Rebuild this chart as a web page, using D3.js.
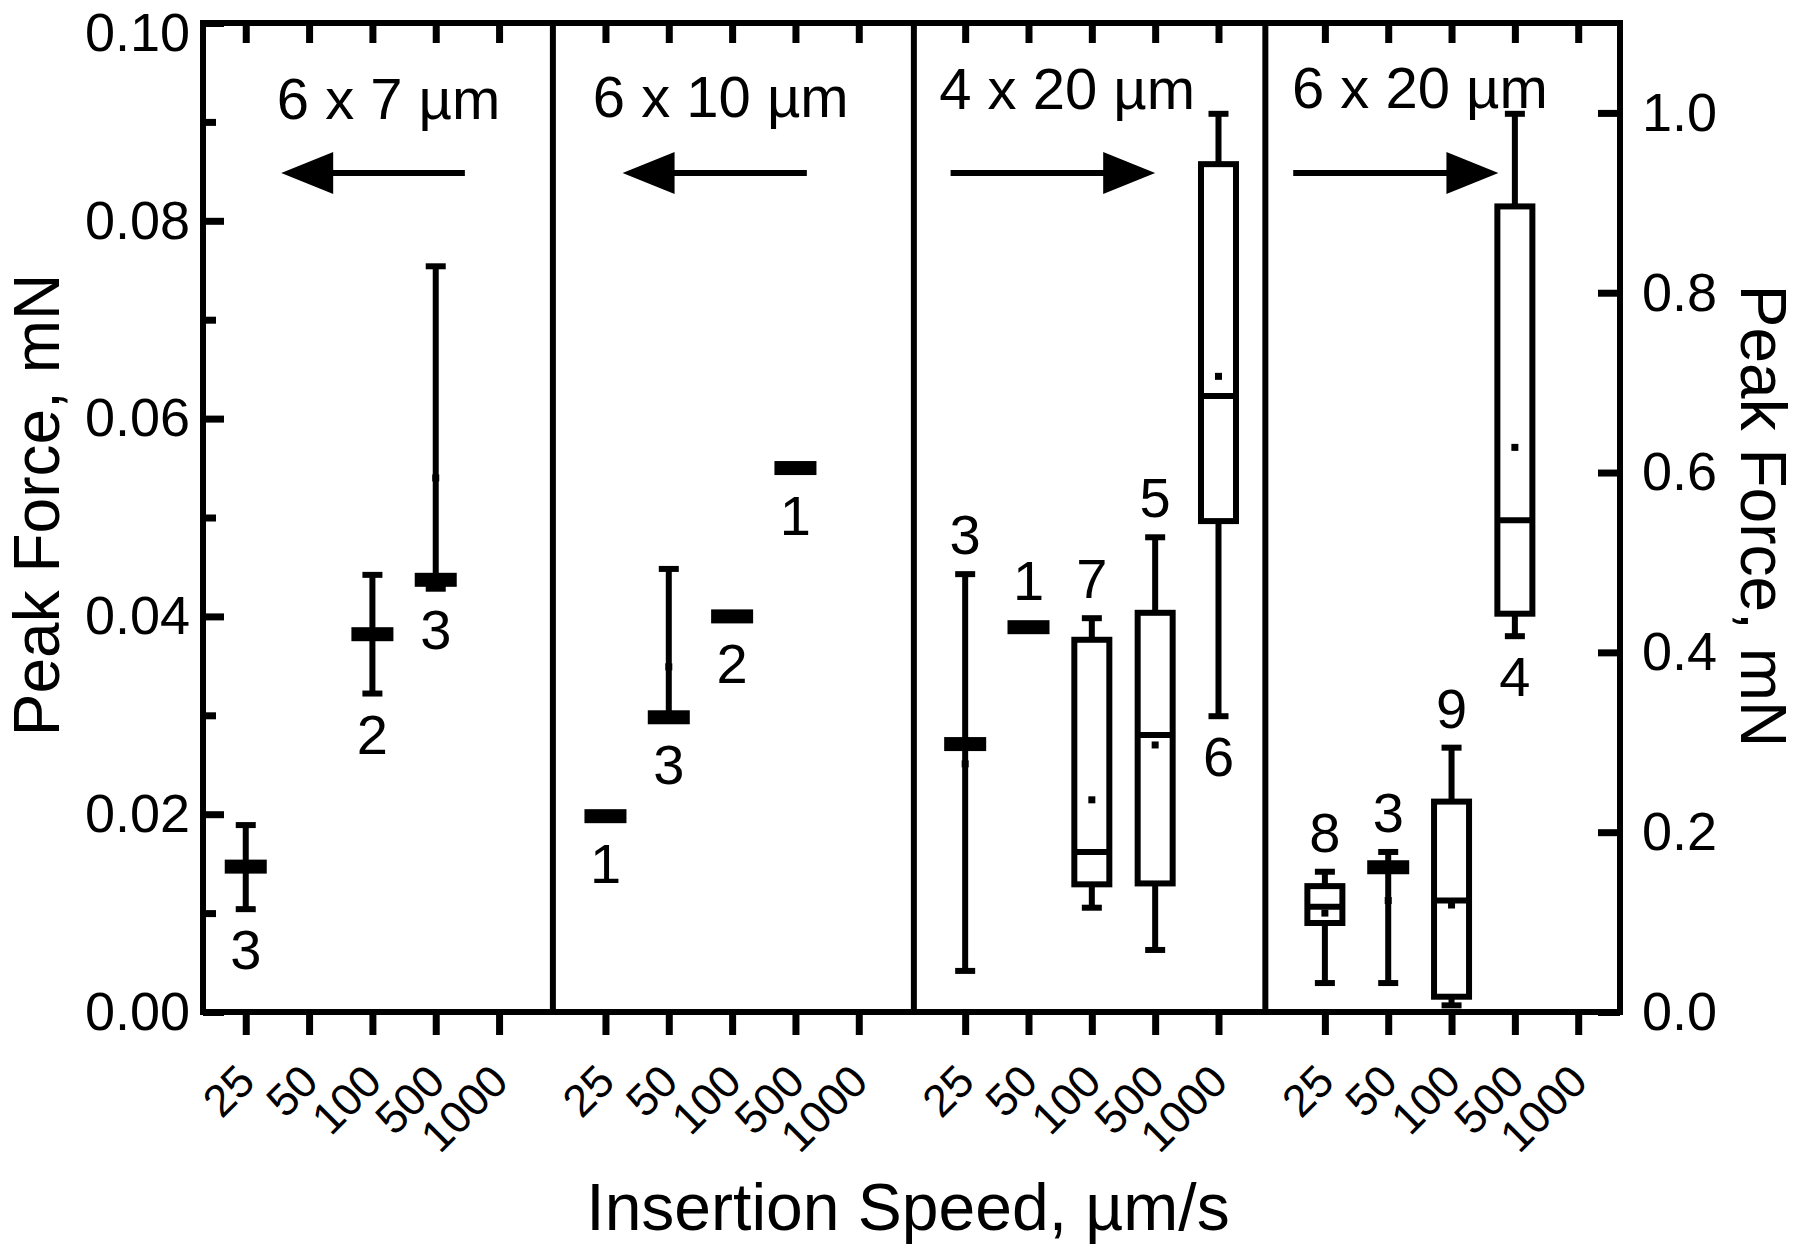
<!DOCTYPE html>
<html>
<head>
<meta charset="utf-8">
<script src="https://cdn.jsdelivr.net/npm/d3@7"></script>
<style>
  html, body { margin: 0; padding: 0; background: #fff; }
  svg { display: block; }
</style>
</head>
<body>
<script>
// ---------------- DATA ----------------
const speeds = ["25", "50", "100", "500", "1000"];
const panelNames = ["6 x 7 \u00b5m", "6 x 10 \u00b5m", "4 x 20 \u00b5m", "6 x 20 \u00b5m"];
const panelAxis = ["left", "left", "right", "right"];      // which y axis a panel is read against
const arrowDirection = ["left", "left", "right", "right"];

const leftTicks = [0, 0.02, 0.04, 0.06, 0.08, 0.10];
const leftMinorTicks = [0.01, 0.03, 0.05, 0.07, 0.09];
const rightTicks = [0, 0.2, 0.4, 0.6, 0.8, 1.0];

// Peak force, mN  (rows = panels, columns = speeds 25, 50, 100, 500, 1000)
const whiskerHigh = [
  [0.0189, null, 0.0442, 0.0754, null],
  [null, 0.0448, null, null, null],
  [0.487, null, 0.438, 0.528, 0.999],
  [0.156, 0.178, 0.294, 0.999, null]
];
const whiskerLow = [
  [0.0104, null, 0.0322, 0.0428, null],
  [null, 0.0298, null, null, null],
  [0.0457, null, 0.116, 0.069, 0.329],
  [0.0322, 0.0322, 0.0074, 0.418, null]
];
const boxHigh = [
  [null, null, null, null, null],
  [null, null, null, null, null],
  [null, null, 0.414, 0.444, 0.943],
  [0.140, null, 0.234, 0.896, null]
];
const boxLow = [
  [null, null, null, null, null],
  [null, null, null, null, null],
  [null, null, 0.142, 0.143, 0.546],
  [0.099, null, 0.017, 0.443, null]
];
const median = [
  [0.0147, null, 0.0382, 0.0437, null],
  [0.0198, 0.0298, 0.0400, 0.0550, null],
  [0.298, 0.428, 0.178, 0.308, 0.685],
  [0.117, 0.161, 0.124, 0.547, null]
];
const mean = [
  [null, null, null, 0.0540, null],
  [null, 0.0349, null, null, null],
  [0.276, null, 0.236, 0.297, 0.707],
  [0.110, 0.124, 0.119, 0.628, null]
];
const sampleSize = [
  [3, null, 2, 3, null],
  [1, 3, 2, 1, null],
  [3, 1, 7, 5, 6],
  [8, 3, 9, 4, null]
];
const labelSide = [
  ["below", null, "below", "below", null],
  ["below", "below", "below", "below", null],
  ["above", "above", "above", "above", "below"],
  ["above", "above", "above", "below", null]
];

// ---------------- LAYOUT ----------------
const W = 1800, H = 1248;
const L = 203, R = 1620, T = 23, B = 1012;
const PANEL_STEP = 5.68;                 // slot units between panels
const dividerSlots = [4.85, 10.55, 16.10];
const arrowSlots = [[3.46, 0.56], [8.86, 5.95], [11.13, 14.36], [16.54, 19.78]]; // [tail, tip]
const titleSlots = [0.49, 5.48, 10.95, 16.52];
const titleBaselines = [119, 117, 109, 108];
const ARROW_Y = 173;
const FONT = "'Liberation Sans', Arial, Helvetica, sans-serif";

const x = d3.scaleLinear().domain([-0.675, 21.7]).range([L, R]);
const yLeft = d3.scaleLinear().domain([0, 0.1]).range([B, T]);
const yRight = d3.scaleLinear().domain([0, 1.1]).range([B, T]);
const slot = (p, i) => p * PANEL_STEP + i;

const svg = d3.select("body").append("svg")
  .attr("width", W).attr("height", H)
  .attr("font-family", FONT);

svg.append("rect").attr("width", W).attr("height", H).attr("fill", "#fff");

// ---------------- AXES ----------------
const allSlots = [];
const slotSpeed = new Map();
for (let p = 0; p < 4; p++) for (let i = 0; i < 5; i++) {
  const s = +slot(p, i).toFixed(4);
  allSlots.push(s); slotSpeed.set(s, speeds[i]);
}

function styleAxis(g, fontSize) {
  g.attr("font-family", FONT);
  g.select(".domain").remove();
  g.selectAll(".tick line").attr("stroke", "#000").attr("stroke-width", 7);
  g.selectAll(".tick text").attr("fill", "#000").attr("font-size", fontSize);
}

// left major
svg.append("g").attr("transform", `translate(${L},0)`)
  .call(d3.axisLeft(yLeft).tickValues(leftTicks).tickSize(-21).tickPadding(13).tickFormat(d3.format(".2f")))
  .call(g => styleAxis(g, 54))
  // keep the topmost label fully inside the picture
  .call(g => g.selectAll(".tick text").filter(d => d === 0.10).attr("dy", "0.5em"));
// left minor
svg.append("g").attr("transform", `translate(${L},0)`)
  .call(d3.axisLeft(yLeft).tickValues(leftMinorTicks).tickSize(-13).tickFormat(""))
  .call(g => styleAxis(g, 54));
// right
svg.append("g").attr("transform", `translate(${R},0)`)
  .call(d3.axisRight(yRight).tickValues(rightTicks).tickSize(-22).tickPadding(22).tickFormat(d3.format(".1f")))
  .call(g => styleAxis(g, 54));
// bottom
svg.append("g").attr("transform", `translate(0,${B})`)
  .call(d3.axisBottom(x).tickValues(allSlots).tickSize(23).tickFormat(d => slotSpeed.get(+d.toFixed(4))))
  .call(g => styleAxis(g, 45))
  .call(g => g.selectAll(".tick text")
    .attr("x", 0).attr("y", 0).attr("dy", 0)
    .attr("text-anchor", "end")
    .attr("transform", "translate(11,72) rotate(-45)"));
// top
svg.append("g").attr("transform", `translate(0,${T})`)
  .call(d3.axisTop(x).tickValues(allSlots).tickSize(-20).tickFormat(""))
  .call(g => styleAxis(g, 45));

// frame + dividers
svg.append("rect")
  .attr("x", L).attr("y", T).attr("width", R - L).attr("height", B - T)
  .attr("fill", "none").attr("stroke", "#000").attr("stroke-width", 6);
svg.append("g").selectAll("line").data(dividerSlots).join("line")
  .attr("x1", d => x(d)).attr("x2", d => x(d))
  .attr("y1", T).attr("y2", B)
  .attr("stroke", "#000").attr("stroke-width", 6);

// ---------------- PANEL TITLES & ARROWS ----------------
svg.append("g").selectAll("text").data(panelNames).join("text")
  .attr("x", (d, p) => x(titleSlots[p]))
  .attr("y", (d, p) => titleBaselines[p])
  .attr("font-size", 58).attr("fill", "#000")
  .text(d => d);

const arrows = svg.append("g");
arrowSlots.forEach(([tail, tip], p) => {
  const xt = x(tail), xp = x(tip);
  const dir = arrowDirection[p] === "left" ? 1 : -1;  // base lies at tip + dir*len
  const headLen = 52, half = 21;
  arrows.append("line")
    .attr("x1", xt).attr("x2", xp + dir * (headLen - 2))
    .attr("y1", ARROW_Y).attr("y2", ARROW_Y)
    .attr("stroke", "#000").attr("stroke-width", 6);
  arrows.append("path")
    .attr("d", `M${xp},${ARROW_Y} L${xp + dir * headLen},${ARROW_Y - half} L${xp + dir * headLen},${ARROW_Y + half} Z`)
    .attr("fill", "#000");
});

// ---------------- BOX PLOTS ----------------
const marks = svg.append("g");
for (let p = 0; p < 4; p++) {
  const ys = panelAxis[p] === "left" ? yLeft : yRight;
  for (let i = 0; i < 5; i++) {
    const med = median[p][i];
    if (med == null) continue;
    const cx = x(slot(p, i));
    const hi = whiskerHigh[p][i], lo = whiskerLow[p][i];
    const q3 = boxHigh[p][i], q1 = boxLow[p][i];
    const mn = mean[p][i];
    const g = marks.append("g");

    if (hi != null || lo != null) {
      const top = hi != null ? hi : med;
      const bot = lo != null ? lo : med;
      g.append("line").attr("x1", cx).attr("x2", cx)
        .attr("y1", ys(top)).attr("y2", ys(bot))
        .attr("stroke", "#000").attr("stroke-width", 6);
      [hi, lo].forEach(v => {
        if (v == null) return;
        g.append("line").attr("x1", cx - 10).attr("x2", cx + 10)
          .attr("y1", ys(v)).attr("y2", ys(v))
          .attr("stroke", "#000").attr("stroke-width", 6);
      });
    }

    let topY, botY;
    if (q1 != null && q3 != null) {
      g.append("rect").attr("x", cx - 17.5).attr("width", 35)
        .attr("y", ys(q3)).attr("height", ys(q1) - ys(q3))
        .attr("fill", "#fff").attr("stroke", "#000").attr("stroke-width", 6);
      g.append("line").attr("x1", cx - 17.5).attr("x2", cx + 17.5)
        .attr("y1", ys(med)).attr("y2", ys(med))
        .attr("stroke", "#000").attr("stroke-width", 6);
      topY = ys(q3); botY = ys(q1);
    } else {
      g.append("rect").attr("x", cx - 21).attr("width", 42)
        .attr("y", ys(med) - 7).attr("height", 14)
        .attr("fill", "#000");
      topY = ys(med) - 7; botY = ys(med) + 7;
    }
    if (mn != null) {
      g.append("rect").attr("x", cx - 3.5).attr("y", ys(mn) - 3.5)
        .attr("width", 7).attr("height", 7).attr("fill", "#000");
    }
    if (hi != null) topY = Math.min(topY, ys(hi));
    if (lo != null) botY = Math.max(botY, ys(lo));

    const side = labelSide[p][i];
    g.append("text")
      .attr("x", cx)
      .attr("y", side === "above" ? topY - 20 : botY + 60)
      .attr("text-anchor", "middle")
      .attr("font-size", 56).attr("fill", "#000")
      .text(sampleSize[p][i]);
  }
}

// ---------------- AXIS TITLES ----------------
svg.append("text")
  .attr("transform", "translate(59,505) rotate(-90)")
  .attr("text-anchor", "middle").attr("font-size", 64).attr("fill", "#000")
  .text("Peak Force, mN");
svg.append("text")
  .attr("transform", "translate(1741,516) rotate(90)")
  .attr("text-anchor", "middle").attr("font-size", 64).attr("fill", "#000")
  .text("Peak Force, mN");
svg.append("text")
  .attr("x", 908).attr("y", 1230)
  .attr("text-anchor", "middle").attr("font-size", 66).attr("fill", "#000")
  .text("Insertion Speed, \u00b5m/s");
</script>
</body>
</html>
